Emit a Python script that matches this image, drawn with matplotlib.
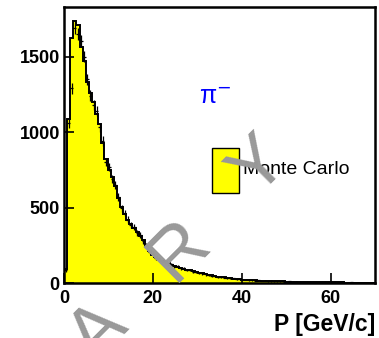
import numpy as np
import matplotlib
matplotlib.use("Agg")
import matplotlib.pyplot as plt
from matplotlib.patches import Rectangle

plt.rcParams['font.family'] = ['Liberation Sans', 'DejaVu Sans']

# Momentum distribution of pi- : Monte Carlo histogram and data points
bin_width = 0.7  # GeV/c
mc_counts = [
    90, 1085, 1620, 1735, 1710, 1560, 1470, 1330, 1260, 1200,
    1120, 1050, 930, 820, 750, 700, 640, 560, 505, 455,
    415, 392, 362, 335, 312, 282, 243, 212, 188, 172,
    157, 146, 138, 130, 121, 113, 108, 100, 95, 88,
    84, 78, 72, 68, 63, 58, 54, 50, 46, 43,
    40, 37, 34, 31, 29, 27, 25, 23, 21, 20,
    18, 17, 16, 15, 14, 13, 12, 12, 11, 10,
    10, 9, 9, 8, 8, 7, 7, 7, 6, 6,
    6, 5, 5, 5, 5, 4, 4, 4, 4, 4,
    3, 3, 3, 3, 3, 3, 2, 2, 2, 2,
]
data_counts = [
    85, 1060, 1290, 1690, 1650, 1600, 1500, 1350, 1240, 1180,
    1140, 1030, 940, 800, 770, 690, 650, 570, 495, 465,
    420, 385, 370, 330, 318, 277, 250, 205, 192, 168,
    160, 143, 141, 127, 123, 110, 111, 98, 97, 86,
    86, 76, 74, 66, 64, 57, 55, 49, 47, 42,
    41, 36, 35, 30, 30, 26, 26, 22, 22, 19,
    19, 16, 17, 14, 15, 12, 13, 11, 12, 10,
    10, 9, 10, 8, 8, 7, 7, 6, 7, 6,
    6, 5, 5, 5, 4, 4, 5, 4, 4, 3,
    3, 3, 4, 3, 3, 2, 3, 2, 2, 2,
]
x_ticks = [0, 20, 40, 60]
y_ticks = [0, 500, 1000, 1500]
watermark_letters = ["A", "R", "Y"]

mc = np.array(mc_counts, dtype=float)
data = np.array(data_counts, dtype=float)
edges = np.arange(len(mc) + 1) * bin_width
centers = 0.5 * (edges[:-1] + edges[1:])

W, H = 379, 338
fig = plt.figure(figsize=(W / 100, H / 100), dpi=100)
ax = fig.add_axes([64 / W, 1 - 283 / H, 311 / W, 276 / H])

ax.stairs(mc, edges, fill=True, color='#ffff00', zorder=1)
ax.stairs(mc, edges, color='black', linewidth=1.4, zorder=2)
ax.errorbar(centers, data, xerr=bin_width / 2, yerr=np.sqrt(data),
            fmt='none', ecolor='black', elinewidth=0.9, capsize=0, zorder=3)

ax.set_xlim(0, 70)
ax.set_ylim(0, 1828)
ax.set_xticks(x_ticks)
ax.set_yticks(y_ticks)
ax.tick_params(direction='in', length=7, width=1.2, labelsize=13, pad=3)
ax.tick_params(axis='x', pad=5)
for lab in ax.get_xticklabels() + ax.get_yticklabels():
    lab.set_fontweight('bold')
for sp in ax.spines.values():
    sp.set_linewidth(1.8)

ax.text(1.0, -0.108, 'P [GeV/c]', transform=ax.transAxes, ha='right', va='top',
        fontsize=16.5, fontweight='bold')

ax.text(0.433, 0.674, 'π$^{-}$', transform=ax.transAxes, ha='left', va='center',
        fontsize=18, color='#0000ff')

# Legend entry for the Monte Carlo histogram
ax.add_patch(Rectangle((0.476, 0.326), 0.087, 0.163, transform=ax.transAxes,
                       facecolor='#ffff00', edgecolor='black', linewidth=1.0,
                       zorder=4))
ax.text(0.576, 0.413, 'Monte Carlo', transform=ax.transAxes, ha='left',
        va='center', fontsize=14, zorder=4)

# Diagonal watermark, letters spaced along a 45-degree line
last = (259, 167)
step = (80, -83)
n = len(watermark_letters)
for i, ch in enumerate(watermark_letters):
    k = i - (n - 1)
    px = last[0] + k * step[0]
    py = last[1] + k * step[1]
    fig.text(px / W, 1 - py / H, ch, ha='center', va='center', rotation=45,
             fontsize=54, color='#999999', zorder=10)

fig.savefig('out.png', dpi=100)
